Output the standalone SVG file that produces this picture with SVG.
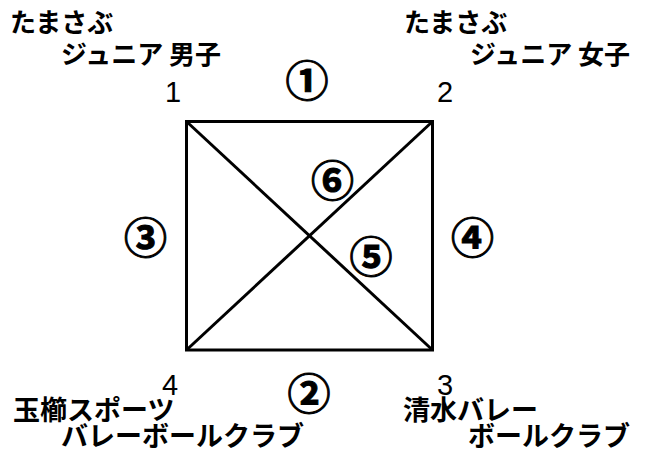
<svg xmlns="http://www.w3.org/2000/svg" width="657" height="473" viewBox="0 0 657 473">
<style>
.jp{font-family:"Noto Sans CJK JP","Noto Sans CJK SC",sans-serif;font-weight:bold;font-size:26px;fill:#000}
.jb{font-size:27px}
.num{font-family:"Liberation Sans",Arial,sans-serif;font-size:29px;fill:#000}
.circ{font-family:"Noto Sans CJK JP","Noto Sans CJK SC",sans-serif;font-weight:bold;font-size:43px;fill:#000;stroke:#000;stroke-width:1;text-anchor:middle}
.edge{stroke:#000;stroke-width:3;fill:none}
</style>
<rect width="657" height="473" fill="#fff"/>
<g id="connectors">
<rect class="edge" x="186.5" y="121.5" width="246" height="228.5"/>
<line class="edge" x1="186.5" y1="121.5" x2="432.5" y2="350"/>
<line class="edge" x1="432.5" y1="121.5" x2="186.5" y2="350"/>
</g>
<g id="node1">
<text class="jp" x="10" y="32">たまさぶ</text>
<text class="jp" x="61" y="64">ジュニア 男子</text>
<text class="num" x="165" y="102">1</text>
</g>
<g id="node2">
<text class="jp" x="404" y="32">たまさぶ</text>
<text class="jp" x="470" y="64">ジュニア 女子</text>
<text class="num" x="437" y="102">2</text>
</g>
<g id="node3">
<text class="num" x="437" y="395">3</text>
<text class="jp jb" x="403" y="420">清水バレー</text>
<text class="jp jb" x="468" y="446">ボールクラブ</text>
</g>
<g id="node4">
<text class="num" x="162" y="395">4</text>
<text class="jp jb" x="13" y="420">玉櫛スポーツ</text>
<text class="jp jb" x="61" y="446">バレーボールクラブ</text>
</g>
<g id="labels">
<text class="circ" x="307" y="97">①</text>
<text class="circ" x="309" y="410">②</text>
<text class="circ" x="145.5" y="254">③</text>
<text class="circ" x="472.5" y="254">④</text>
<text class="circ" x="371" y="273">⑤</text>
<text class="circ" x="332.5" y="197">⑥</text>
</g>
</svg>
